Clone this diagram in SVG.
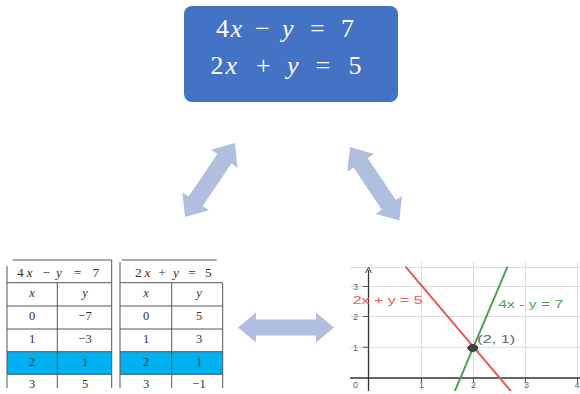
<svg xmlns="http://www.w3.org/2000/svg" width="580" height="394" viewBox="0 0 580 394">
<style>
.eq{font-family:"Liberation Serif",serif;font-size:26px;fill:#fff}
.it{font-style:italic}
.tb{font-family:"Liberation Serif",serif;font-size:12.5px;fill:#333;text-anchor:middle}
.th{font-family:"Liberation Serif",serif;font-size:13.5px;fill:#333}
.ln{stroke:#555;stroke-width:1;fill:none}
.hl{fill:#00b0f0}
.grid{stroke:#dcdcdc;stroke-width:1}
.tick{font-family:"Liberation Sans",sans-serif;font-size:9px;fill:#666;text-anchor:middle}
.lab{font-family:"Liberation Sans",sans-serif;font-size:11px}
.arr{fill:#b0bedf}
</style>
<defs>
<clipPath id="gclip"><rect x="340" y="262" width="240" height="129"/></clipPath>
</defs>
<rect width="580" height="394" fill="#fff"/>

<g id="equations">
<rect x="184" y="6" width="214" height="96" rx="8" fill="#4472c4"/>
<text class="eq" y="37" x="216 230.5 243 255 270 282 295 310 326 341">4<tspan class="it">x</tspan> − <tspan class="it">y</tspan> = 7</text>
<text class="eq" y="74" x="210.5 225.5 238 256 272 287 300 315.5 332 348.5">2<tspan class="it">x</tspan> + <tspan class="it">y</tspan> = 5</text>
</g>

<g id="table1">
<rect class="hl" x="7" y="351.7" width="104.5" height="22.6"/>
<path class="ln" d="M12.7 260H111.7M7 266V388M111.7 260V388M57.3 282.7V388M7 282.7H111.7M7 306H111.7M7 329H111.7M7 351.7H111.7M7 374.3H111.7"/>
<text class="th" y="276.7" x="17 26.5 33 42.7 50 56 62 73.7 82 92.6">4<tspan class="it">x</tspan> − <tspan class="it">y</tspan> = 7</text>
<text class="tb it" x="32" y="297">x</text><text class="tb it" x="85" y="297">y</text>
<text class="tb" x="32" y="320">0</text><text class="tb" x="85" y="320">−7</text>
<text class="tb" x="32" y="343">1</text><text class="tb" x="85" y="343">−3</text>
<text class="tb" x="32" y="366">2</text><text class="tb" x="85" y="366">1</text>
<text class="tb" x="32" y="388">3</text><text class="tb" x="85" y="388">5</text>
</g>

<g id="table2">
<rect class="hl" x="120" y="351.7" width="102.7" height="22.6"/>
<path class="ln" d="M121.7 260H216.7M120 262V388M222.7 282.7V388M171.7 282.7V388M120 282.7H222.7M120 306H222.7M120 329H222.7M120 351.7H222.7M120 374.3H222.7"/>
<text class="th" y="276.7" x="135 144.5 151 158.2 166 173 179 188.2 196 205">2<tspan class="it">x</tspan> + <tspan class="it">y</tspan> = 5</text>
<text class="tb it" x="146" y="297">x</text><text class="tb it" x="199" y="297">y</text>
<text class="tb" x="146" y="320">0</text><text class="tb" x="199" y="320">5</text>
<text class="tb" x="146" y="343">1</text><text class="tb" x="199" y="343">3</text>
<text class="tb" x="146" y="366">2</text><text class="tb" x="199" y="366">1</text>
<text class="tb" x="146" y="388">3</text><text class="tb" x="199" y="388">−1</text>
</g>

<g id="graph">
<g clip-path="url(#gclip)">
<path class="grid" d="M350 267.5H580M350 286.5H580M350 316.5H580M350 347.3H580M421.5 262V391M473.5 262V391M525.5 262V391M577.5 262V391"/>
<path d="M350 378H580" stroke="#333" stroke-width="1.3"/>
<path d="M368.5 270V391" stroke="#333" stroke-width="1.3"/>
<path d="M365.5 273L368.5 267.5L371.5 273" stroke="#333" stroke-width="1" fill="none"/>
<path d="M363 286.5H368.5M363 316.5H368.5M363 347.3H368.5M421.5 378V382M473.5 378V382M525.5 378V382M577.5 378V382" stroke="#555" stroke-width="1"/>
<path d="M405.5 266.7L513.3 394" stroke="#e35b5b" stroke-width="2" fill="none"/>
<path d="M507.5 266.7L453.6 394" stroke="#4fa04f" stroke-width="2" fill="none"/>
</g>
<text class="tick" x="355.5" y="289.5">3</text>
<text class="tick" x="355.5" y="319.5">2</text>
<text class="tick" x="355.5" y="350.5">1</text>
<text class="tick" x="355.5" y="388">0</text>
<text class="tick" x="421.5" y="388">1</text>
<text class="tick" x="473.5" y="388">2</text>
<text class="tick" x="526.5" y="388">3</text>
<text class="tick" x="577" y="388">4</text>
<ellipse cx="472.7" cy="348" rx="5" ry="3.4" fill="#444" stroke="#222" stroke-width="0.8"/>
<text class="lab" x="352.7" y="304.3" fill="#e35b5b" textLength="70" lengthAdjust="spacingAndGlyphs">2x + y = 5</text>
<text class="lab" x="498.3" y="308.3" fill="#4fa04f" textLength="65" lengthAdjust="spacingAndGlyphs">4x - y = 7</text>
<text class="lab" x="477.3" y="342.7" fill="#666" textLength="38" lengthAdjust="spacingAndGlyphs">(2, 1)</text>
</g>

<g id="connectors">
<polygon class="arr" transform="translate(286 327.5)" points="-48,0 -30,-15 -30,-8 30,-8 30,-15 48,0 30,15 30,8 -30,8 -30,15"/>
<polygon class="arr" transform="translate(210 180) rotate(-55.95)" points="-44.6,0 -25.6,-16 -25.6,-8.5 25.6,-8.5 25.6,-16 44.6,0 25.6,16 25.6,8.5 -25.6,8.5 -25.6,16"/>
<polygon class="arr" transform="translate(374.7 183.8) rotate(56.2)" points="-44.3,0 -25.3,-16 -25.3,-8.5 25.3,-8.5 25.3,-16 44.3,0 25.3,16 25.3,8.5 -25.3,8.5 -25.3,16"/>
</g>
</svg>
